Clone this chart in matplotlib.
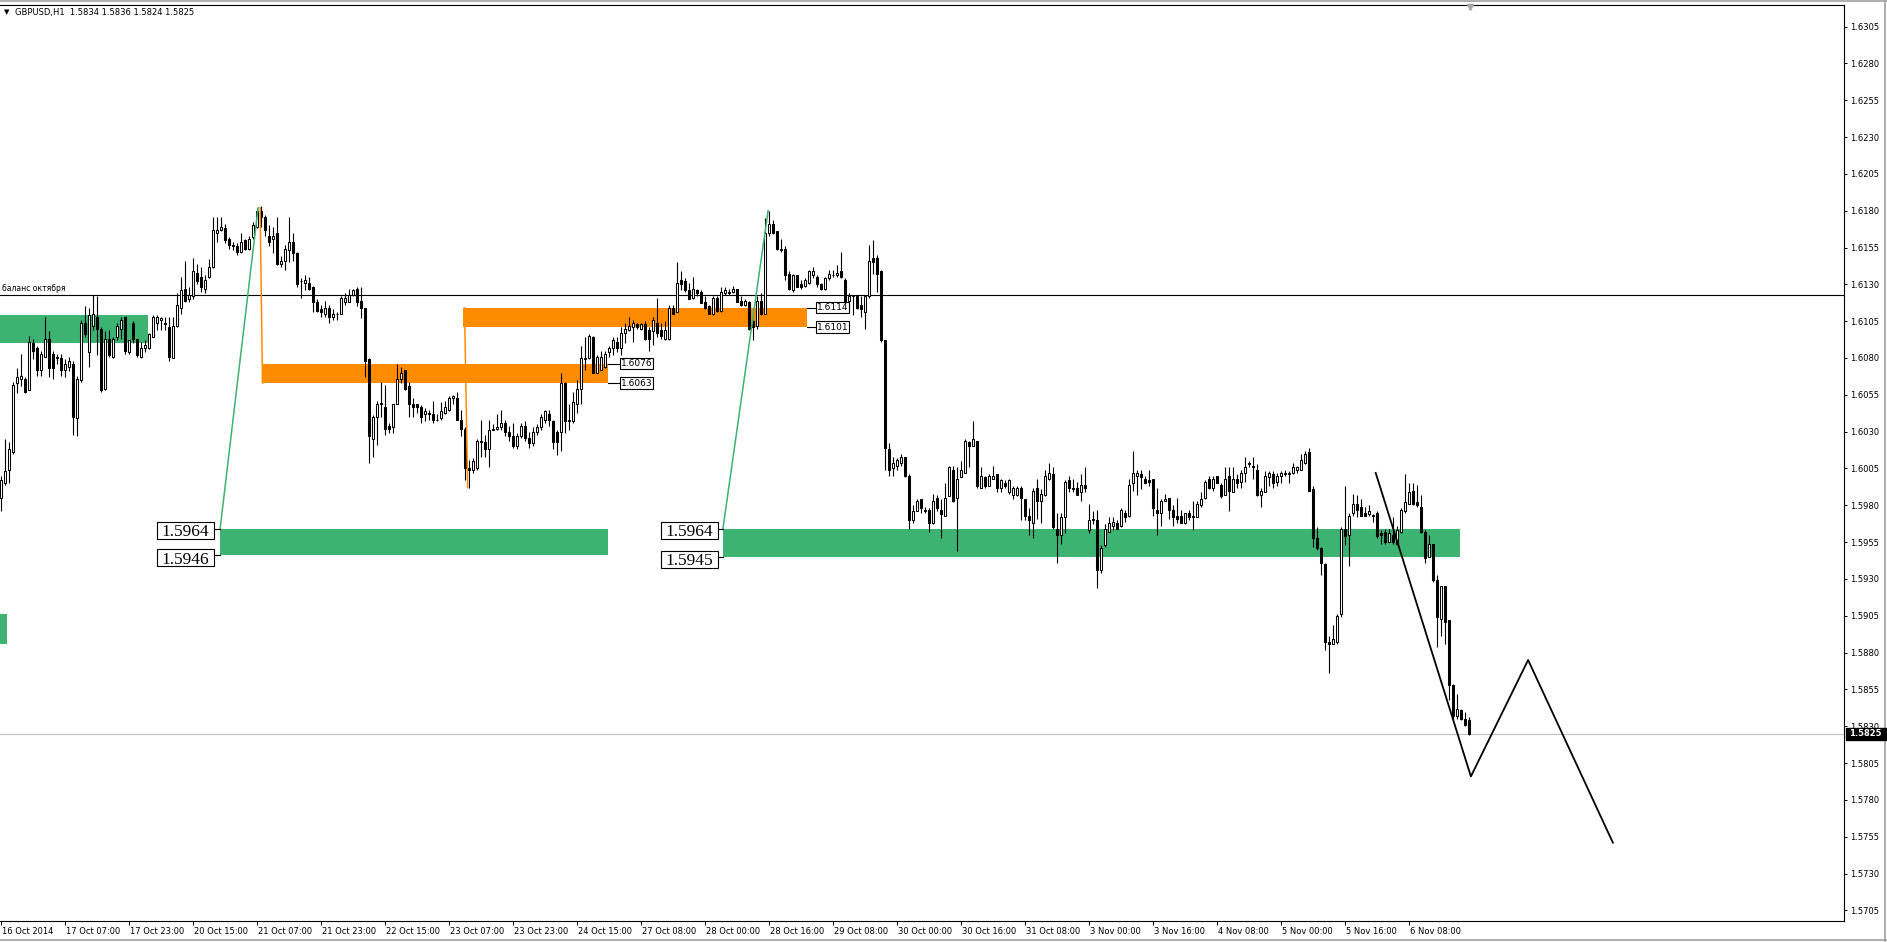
import numpy as np
import matplotlib

matplotlib.use("Agg")
import matplotlib.pyplot as plt
from matplotlib.patches import Rectangle
from matplotlib.lines import Line2D
from matplotlib.transforms import offset_copy

# ----------------------------------------------------------------------
# GBPUSD H1 bars, 16 Oct 2014 15:00 .. 6 Nov 2014 23:00, in units of 0.0001
# ----------------------------------------------------------------------
open_pips = [
    15985, 15995, 16004, 16016, 16063, 16066, 16066, 16058, 16090, 16087,
    16072, 16081, 16093, 16083, 16081, 16080, 16072, 16074, 16076, 16039,
    16065, 16104, 16084, 16102, 16108, 16100, 16059, 16093, 16081, 16094,
    16100, 16108, 16084, 16104, 16093, 16081, 16087, 16087, 16094, 16104,
    16106, 16104, 16101, 16080, 16102, 16114, 16127, 16120, 16122, 16138,
    16135, 16127, 16135, 16142, 16165, 16167, 16168, 16161, 16157, 16156,
    16152, 16160, 16154, 16162, 16169, 16180, 16176, 16163, 16161, 16165,
    16144, 16146, 16153, 16159, 16151, 16132, 16131, 16131, 16128, 16118,
    16113, 16110, 16114, 16108, 16110, 16110, 16118, 16118, 16123, 16127,
    16119, 16114, 16079, 16025, 16040, 16049, 16047, 16034, 16033, 16049,
    16066, 16072, 16061, 16049, 16049, 16047, 16042, 16043, 16042, 16038,
    16039, 16043, 16045, 16053, 16053, 16038, 16032, 16005, 16004, 16005,
    16023, 16023, 16018, 16031, 16032, 16033, 16036, 16030, 16027, 16020,
    16027, 16034, 16026, 16022, 16030, 16033, 16038, 16042, 16037, 16030,
    16030, 16063, 16037, 16037, 16049, 16059, 16079, 16080, 16094, 16070,
    16072, 16074, 16084, 16087, 16091, 16087, 16097, 16099, 16101, 16103,
    16100, 16103, 16099, 16098, 16104, 16099, 16093, 16093, 16114, 16111,
    16133, 16132, 16126, 16121, 16126, 16125, 16118, 16115, 16110, 16121,
    16112, 16124, 16125, 16125, 16127, 16119, 16116, 16118, 16105, 16102,
    16119, 16110, 16165, 16171, 16166, 16154, 16154, 16137, 16126, 16136,
    16130, 16129, 16131, 16136, 16135, 16130, 16127, 16134, 16136, 16136,
    16139, 16133, 16119, 16122, 16122, 16116, 16111, 16122, 16148, 16148,
    16139, 16092, 16018, 16005, 16007, 16009, 16013, 16000, 15970, 15976,
    15984, 15977, 15977, 15968, 15985, 15977, 15973, 15986, 16004, 15985,
    15999, 16002, 16023, 16020, 16024, 15992, 15999, 15993, 15998, 16001,
    15992, 15995, 15989, 15987, 15987, 15992, 15984, 15973, 15968, 15992,
    15983, 15987, 15998, 16001, 15964, 15960, 15972, 15997, 15992, 15992,
    15989, 15994, 15963, 15970, 15970, 15936, 15953, 15962, 15966, 15968,
    15966, 15975, 15973, 15995, 16000, 16001, 15998, 15997, 15998, 15977,
    15975, 15983, 15985, 15977, 15973, 15973, 15968, 15975, 15973, 15972,
    15980, 15985, 15998, 15992, 16000, 15994, 15987, 16000, 15989, 15998,
    15996, 16002, 16008, 16007, 16004, 15987, 15989, 15999, 16001, 15996,
    16000, 16001, 16001, 16002, 16004, 16004, 16009, 16016, 15991, 15958,
    15951, 15940, 15887, 15886, 15887, 15906, 15964, 15960, 15975, 15981,
    15979, 15975, 15974, 15973, 15975, 15961, 15962, 15955, 15960, 15954,
    15962, 15976, 15981, 15990, 15982, 15979, 15962, 15945, 15954, 15929,
    15903, 15925, 15902, 15858, 15837, 15841, 15835, 15834,
]
high_pips = [
    16000, 16025, 16023, 16064, 16073, 16083, 16067, 16095, 16093, 16088,
    16085, 16108, 16098, 16085, 16083, 16083, 16079, 16081, 16078, 16068,
    16106, 16115, 16114, 16123, 16122, 16101, 16098, 16099, 16094, 16104,
    16108, 16108, 16092, 16105, 16093, 16091, 16092, 16097, 16109, 16109,
    16108, 16108, 16108, 16108, 16124, 16135, 16146, 16128, 16148, 16144,
    16142, 16136, 16147, 16176, 16176, 16176, 16171, 16162, 16159, 16158,
    16165, 16161, 16163, 16172, 16182, 16183, 16177, 16170, 16169, 16176,
    16149, 16157, 16176, 16165, 16152, 16134, 16136, 16135, 16129, 16120,
    16116, 16119, 16116, 16113, 16111, 16122, 16124, 16127, 16127, 16128,
    16128, 16114, 16080, 16041, 16051, 16064, 16062, 16036, 16049, 16076,
    16074, 16072, 16064, 16053, 16049, 16048, 16046, 16045, 16051, 16042,
    16050, 16051, 16054, 16055, 16057, 16045, 16033, 16011, 16012, 16025,
    16038, 16028, 16038, 16035, 16042, 16045, 16038, 16034, 16036, 16029,
    16036, 16037, 16030, 16033, 16035, 16042, 16045, 16045, 16038, 16031,
    16070, 16064, 16049, 16057, 16065, 16088, 16094, 16096, 16095, 16082,
    16085, 16085, 16088, 16094, 16094, 16101, 16104, 16108, 16106, 16104,
    16104, 16105, 16101, 16108, 16121, 16104, 16105, 16116, 16116, 16145,
    16139, 16134, 16131, 16135, 16127, 16126, 16122, 16116, 16122, 16122,
    16128, 16128, 16127, 16129, 16127, 16122, 16120, 16119, 16106, 16122,
    16124, 16175, 16180, 16174, 16166, 16161, 16156, 16139, 16137, 16136,
    16133, 16134, 16140, 16142, 16136, 16131, 16135, 16140, 16140, 16143,
    16152, 16134, 16124, 16123, 16123, 16122, 16123, 16157, 16160, 16150,
    16140, 16092, 16022, 16013, 16012, 16015, 16013, 16001, 15980, 15984,
    15984, 15979, 15978, 15988, 15987, 15984, 15995, 16007, 16007, 16006,
    16010, 16025, 16024, 16037, 16024, 16006, 16000, 16001, 16007, 16001,
    15998, 15997, 15998, 15993, 15993, 15993, 15984, 15978, 15992, 15998,
    15991, 16004, 16009, 16006, 15975, 15975, 15997, 16000, 15998, 15996,
    16001, 16006, 15981, 15976, 15977, 15953, 15967, 15972, 15972, 15970,
    15978, 15977, 15998, 16017, 16004, 16004, 16000, 16004, 15998, 15992,
    15984, 15988, 15985, 15980, 15985, 15977, 15975, 15977, 15983, 15983,
    15989, 15997, 16000, 16000, 16000, 15995, 16006, 16006, 16006, 16001,
    16004, 16013, 16010, 16013, 16008, 15992, 16003, 16003, 16003, 16002,
    16003, 16004, 16003, 16009, 16007, 16015, 16017, 16019, 15993, 15965,
    15952, 15941, 15891, 15899, 15906, 15965, 15993, 15975, 15988, 15987,
    15984, 15979, 15980, 15974, 15976, 15963, 15964, 15964, 15972, 15966,
    15978, 16001, 15995, 15995, 15994, 15987, 15963, 15960, 15954, 15933,
    15925, 15925, 15902, 15859, 15852, 15842, 15840, 15836,
]
low_pips = [
    15976, 15994, 15995, 16015, 16056, 16061, 16056, 16058, 16079, 16068,
    16068, 16081, 16067, 16066, 16076, 16068, 16067, 16071, 16028, 16027,
    16064, 16094, 16074, 16099, 16082, 16057, 16058, 16081, 16080, 16092,
    16093, 16083, 16083, 16090, 16081, 16080, 16084, 16086, 16094, 16099,
    16099, 16099, 16078, 16080, 16101, 16110, 16118, 16118, 16120, 16130,
    16125, 16124, 16134, 16141, 16159, 16166, 16158, 16154, 16153, 16150,
    16151, 16153, 16153, 16161, 16168, 16169, 16163, 16156, 16151, 16143,
    16142, 16140, 16145, 16146, 16128, 16121, 16126, 16126, 16111, 16111,
    16108, 16108, 16104, 16106, 16106, 16110, 16116, 16118, 16122, 16115,
    16107, 16067, 16009, 16013, 16021, 16040, 16028, 16029, 16029, 16049,
    16063, 16058, 16040, 16040, 16043, 16036, 16037, 16038, 16036, 16037,
    16038, 16042, 16044, 16049, 16038, 16027, 15997, 15992, 16002, 16004,
    16013, 16013, 16006, 16031, 16031, 16031, 16027, 16024, 16019, 16018,
    16026, 16024, 16019, 16020, 16028, 16031, 16036, 16034, 16018, 16014,
    16017, 16029, 16031, 16036, 16043, 16049, 16072, 16079, 16070, 16070,
    16072, 16073, 16081, 16082, 16084, 16082, 16090, 16098, 16091, 16100,
    16099, 16092, 16085, 16089, 16094, 16093, 16092, 16092, 16110, 16111,
    16126, 16125, 16120, 16120, 16122, 16117, 16113, 16110, 16109, 16111,
    16111, 16123, 16123, 16124, 16118, 16115, 16115, 16099, 16092, 16100,
    16109, 16110, 16163, 16164, 16153, 16152, 16133, 16126, 16125, 16128,
    16127, 16128, 16130, 16134, 16128, 16126, 16126, 16133, 16135, 16135,
    16134, 16116, 16113, 16109, 16113, 16108, 16100, 16121, 16137, 16125,
    16091, 16004, 16000, 16000, 16004, 16007, 15999, 15964, 15968, 15976,
    15975, 15975, 15962, 15967, 15976, 15958, 15973, 15986, 15982, 15949,
    15999, 16002, 16006, 16020, 15992, 15992, 15992, 15993, 15998, 15989,
    15989, 15992, 15988, 15984, 15986, 15970, 15970, 15960, 15958, 15971,
    15968, 15986, 15997, 15964, 15941, 15954, 15961, 15989, 15989, 15987,
    15983, 15989, 15961, 15967, 15924, 15934, 15952, 15962, 15963, 15964,
    15965, 15969, 15972, 15990, 15987, 15991, 15995, 15993, 15973, 15960,
    15966, 15983, 15971, 15966, 15968, 15968, 15967, 15970, 15963, 15972,
    15979, 15984, 15991, 15990, 15995, 15985, 15987, 15976, 15989, 15992,
    15992, 15996, 16006, 15998, 15986, 15979, 15989, 15993, 15992, 15993,
    15995, 16000, 15995, 16001, 16002, 16004, 16008, 15990, 15952, 15950,
    15933, 15882, 15866, 15886, 15886, 15904, 15953, 15939, 15973, 15972,
    15973, 15973, 15973, 15969, 15958, 15954, 15954, 15955, 15954, 15953,
    15961, 15975, 15981, 15980, 15979, 15961, 15941, 15945, 15928, 15884,
    15891, 15886, 15848, 15835, 15835, 15834, 15830, 15824,
]
close_pips = [
    15997, 16003, 16018, 16062, 16067, 16068, 16057, 16091, 16085, 16072,
    16083, 16093, 16073, 16073, 16080, 16072, 16076, 16078, 16040, 16066,
    16104, 16096, 16109, 16110, 16100, 16058, 16093, 16082, 16093, 16102,
    16106, 16085, 16092, 16093, 16082, 16087, 16089, 16096, 16108, 16108,
    16107, 16103, 16081, 16102, 16116, 16126, 16119, 16123, 16139, 16132,
    16128, 16133, 16142, 16167, 16167, 16169, 16160, 16157, 16156, 16152,
    16159, 16154, 16161, 16170, 16180, 16176, 16167, 16159, 16163, 16144,
    16146, 16154, 16159, 16151, 16130, 16132, 16133, 16127, 16118, 16112,
    16111, 16114, 16108, 16110, 16110, 16121, 16121, 16123, 16126, 16118,
    16114, 16078, 16027, 16040, 16049, 16049, 16032, 16032, 16049, 16066,
    16070, 16059, 16049, 16047, 16047, 16040, 16044, 16042, 16038, 16038,
    16044, 16047, 16053, 16054, 16038, 16032, 16005, 16004, 16010, 16024,
    16024, 16018, 16031, 16032, 16033, 16036, 16030, 16027, 16020, 16027,
    16034, 16026, 16022, 16030, 16033, 16040, 16044, 16038, 16023, 16023,
    16063, 16037, 16038, 16050, 16059, 16080, 16080, 16095, 16070, 16081,
    16081, 16083, 16087, 16092, 16087, 16097, 16100, 16102, 16104, 16101,
    16103, 16093, 16093, 16106, 16097, 16095, 16099, 16114, 16110, 16131,
    16130, 16126, 16120, 16127, 16124, 16117, 16114, 16110, 16121, 16112,
    16125, 16126, 16124, 16127, 16118, 16116, 16119, 16100, 16101, 16119,
    16110, 16165, 16171, 16165, 16154, 16153, 16136, 16127, 16136, 16128,
    16128, 16133, 16139, 16139, 16130, 16127, 16134, 16137, 16136, 16138,
    16135, 16118, 16122, 16123, 16114, 16113, 16122, 16146, 16145, 16137,
    16092, 16019, 16004, 16009, 16011, 16013, 16000, 15970, 15976, 15983,
    15978, 15976, 15968, 15983, 15978, 15974, 15985, 16006, 15983, 15998,
    16004, 16024, 16020, 16025, 15993, 16000, 15993, 16000, 16000, 15992,
    15997, 15993, 15997, 15992, 15992, 15985, 15973, 15970, 15990, 15983,
    15988, 16000, 16002, 15965, 15960, 15972, 15996, 15992, 15991, 15987,
    15994, 15992, 15970, 15971, 15936, 15951, 15964, 15968, 15969, 15964,
    15977, 15972, 15994, 16002, 16002, 15999, 15995, 15996, 15978, 15975,
    15983, 15984, 15977, 15972, 15971, 15968, 15975, 15972, 15972, 15981,
    15984, 15996, 15992, 15998, 15995, 15986, 15998, 15990, 15998, 15995,
    16002, 16006, 16009, 16006, 15987, 15990, 16000, 16002, 15995, 16000,
    16002, 16002, 16002, 16006, 16006, 16011, 16015, 15990, 15958, 15951,
    15941, 15887, 15886, 15889, 15905, 15964, 15959, 15973, 15981, 15977,
    15973, 15973, 15976, 15973, 15959, 15960, 15955, 15961, 15955, 15963,
    15977, 15982, 15989, 15981, 15980, 15962, 15944, 15954, 15929, 15904,
    15925, 15901, 15858, 15837, 15842, 15835, 15831, 15825,
]

# bottom time scale: one label every 16 bars
time_labels = [
    "16 Oct 2014", "17 Oct 07:00", "17 Oct 23:00", "20 Oct 15:00",
    "21 Oct 07:00", "21 Oct 23:00", "22 Oct 15:00", "23 Oct 07:00",
    "23 Oct 23:00", "24 Oct 15:00", "27 Oct 08:00", "28 Oct 00:00",
    "28 Oct 16:00", "29 Oct 08:00", "30 Oct 00:00", "30 Oct 16:00",
    "31 Oct 08:00", "3 Nov 00:00", "3 Nov 16:00", "4 Nov 08:00",
    "5 Nov 00:00", "5 Nov 16:00", "6 Nov 08:00",
]
time_label_bars = [0, 16, 32, 48, 64, 80, 96, 112, 128, 144, 160, 176, 192,
                   208, 224, 240, 256, 272, 288, 304, 320, 336, 352]

# drawn objects: (bar_from, bar_to, price_lo, price_hi)
green_zones = [
    (-1.0, 36.9, 1.6090, 1.6109),
    (-1.0, 1.6, 1.5886, 1.5906),
    (54.9, 151.9, 1.5946, 1.5964),
    (180.6, 364.9, 1.5945, 1.5964),
]
orange_zones = [
    (65.4, 151.9, 1.6063, 1.6076),
    (115.6, 201.6, 1.6101, 1.6114),
]
green_legs = [((54.9, 1.5964), (64.4, 1.6182)),
              ((180.6, 1.5964), (191.9, 1.6180))]
orange_legs = [((64.9, 1.6182), (65.5, 1.6063)),
               ((116.0, 1.6114), (116.8, 1.5992))]
zigzag_bars = [343.8, 367.6, 381.9, 403.1]
zigzag_prices = [1.6002, 1.5796, 1.5875, 1.5751]

# big price tags: (box_right_bar, zone_start_bar, upper, lower)
big_tags = [(53.4, 54.9, 1.5964, 1.5946), (179.4, 180.6, 1.5964, 1.5945)]
# small price tags: (zone_end_bar, tag_bar, upper, lower)
small_tags = [(151.9, 154.6, 1.6076, 1.6063), (201.6, 203.6, 1.6114, 1.6101)]

balance_level = 1.6123
bid = 1.5825
price_ticks = [1.5705 + 0.0025 * k for k in range(25)]

GREEN = "#3CB371"
ORANGE = "#FF8C00"
W, H = 1887, 942

o = np.array(open_pips) / 1e4
hi = np.array(high_pips) / 1e4
lo = np.array(low_pips) / 1e4
c = np.array(close_pips) / 1e4
x = np.arange(len(c))

fig = plt.figure(figsize=(W / 100, H / 100), dpi=100)
ax = fig.add_axes([0, 21.5 / H, 1844 / W, 915.5 / H])
ax.set_xlim(-0.125, 460.875)
ax.set_ylim(1.56982, 1.63196)

# ----------------------------------------------------------------------
# zones and hand drawn objects
# ----------------------------------------------------------------------
for x0, x1, p0, p1 in green_zones:
    ax.add_patch(Rectangle((x0, p0), x1 - x0, p1 - p0, color=GREEN, lw=0, zorder=1))
for x0, x1, p0, p1 in orange_zones:
    ax.add_patch(Rectangle((x0, p0), x1 - x0, p1 - p0, color=ORANGE, lw=0, zorder=1))

ax.axhline(balance_level, color="black", lw=0.8, zorder=2)
ax.text(0.4, balance_level + 0.00012, "баланс октября", fontsize=5.5,
        va="bottom", ha="left", zorder=5)
ax.axhline(bid, color="#C0C0C0", lw=0.8, zorder=1.5)

# candles
up = c >= o
ax.vlines(x, lo, hi, color="black", lw=0.8, zorder=2.5)
body_lo = np.minimum(o, c)
body_h = np.maximum(np.abs(c - o), 0.00002)
ax.bar(x, body_h, bottom=body_lo, width=0.5,
       color=np.where(up, "white", "black"), edgecolor="black",
       linewidth=0.75, zorder=3)

for (xa, ya), (xb, yb) in green_legs:
    ax.plot([xa, xb], [ya, yb], color=GREEN, lw=1.1, zorder=4)
for (xa, ya), (xb, yb) in orange_legs:
    ax.plot([xa, xb], [ya, yb], color=ORANGE, lw=1.1, zorder=4)
ax.plot(zigzag_bars, zigzag_prices, color="black", lw=1.3, zorder=4,
        clip_on=False)

# big price tags: fixed-size boxes (57 x 17 px) left of the green zones
box_w = 57 / 4.0          # bars
box_h = 17 / 14733        # price
for right, zone_start, p_up, p_dn in big_tags:
    for p, shift in ((p_up, -0.00010), (p_dn, -0.00016)):
        yc = p + shift
        ax.plot([right, zone_start], [p, p], color="black", lw=0.8, zorder=4)
        ax.add_patch(Rectangle((right - box_w, yc - box_h / 2), box_w, box_h,
                               fc="white", ec="black", lw=0.8, zorder=5))
        ax.text(right - box_w / 2, yc, f"{p:.4f}", fontsize=12.5,
                ha="center", va="center_baseline", zorder=6,
                family=["Liberation Serif", "DejaVu Serif"])

# small price tags right of the orange zones
box = dict(boxstyle="square,pad=0.12", fc="white", ec="black", lw=0.8)
for zone_end, tag_x, p0, p1 in small_tags:
    for p in (p0, p1):
        ax.plot([zone_end, tag_x], [p, p], color="black", lw=0.8, zorder=4)
        ax.text(tag_x + 0.45, p, f"{p:.4f}", fontsize=6.5, ha="left",
                va="center", bbox=box, zorder=5)

# ----------------------------------------------------------------------
# axes, ticks
# ----------------------------------------------------------------------
for side in ("top", "right", "bottom"):
    ax.spines[side].set_linewidth(0.8)
ax.spines["left"].set_visible(False)

ax.yaxis.tick_right()
ax.set_yticks(price_ticks)
ax.set_yticklabels([f"{p:.4f}" for p in price_ticks])
ax.tick_params(axis="y", direction="out", length=2.5, width=0.7,
               labelsize=6, pad=2)

ax.set_xticks(time_label_bars)
ax.set_xticklabels(time_labels, ha="left")
ax.tick_params(axis="x", direction="out", length=3, width=0.7,
               labelsize=6, pad=1.5)
for lab in ax.get_xticklabels():
    lab.set_transform(offset_copy(lab.get_transform(), fig=fig, x=2, y=0,
                                  units="dots"))

# bid tag on the price scale
yb = 733.5
fig.add_artist(Rectangle((1846 / W, 1 - (yb + 6) / H), 40 / W, 12 / H,
                         transform=fig.transFigure, color="black", zorder=10))
fig.text(1849 / W, 1 - yb / H, f"{bid:.4f}", color="white", fontsize=6,
         va="center", ha="left", zorder=11, weight="bold")

# header text and shift marker
fig.text(4 / W, 1 - 12 / H, "\u25bc", fontsize=5, va="center", ha="left")
fig.text(15 / W, 1 - 12 / H, "GBPUSD,H1  1.5834 1.5836 1.5824 1.5825",
         fontsize=6, va="center", ha="left")
ax.plot([367.4], [1.6318], marker="v", ms=4, color="#A8A8A8", clip_on=False,
        zorder=6)

# window border
for xs, ys in [((0, 1), (1 - 1 / H, 1 - 1 / H)),
               ((0, 1), (2 / H, 2 / H)),
               ((1 - 2 / W, 1 - 2 / W), (0, 1))]:
    fig.add_artist(Line2D(xs, ys, transform=fig.transFigure, color="#A0A0A0",
                          lw=1.2))

fig.savefig("out.png", dpi=100)
